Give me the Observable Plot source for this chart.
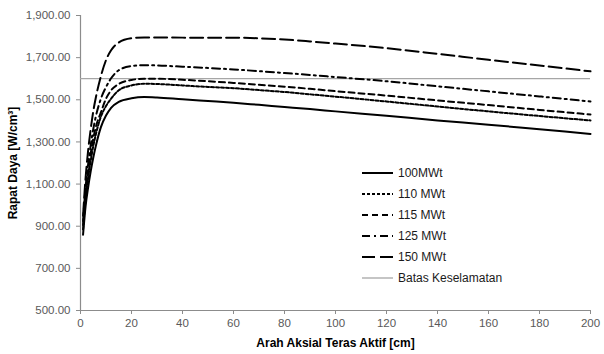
<!DOCTYPE html>
<html>
<head>
<meta charset="utf-8">
<script src="https://cdn.jsdelivr.net/npm/d3@7"></script>
<script src="https://cdn.jsdelivr.net/npm/@observablehq/plot@0.6"></script>
<style>
  body { margin: 0; background: #fff; }
  #wrap { position: relative; width: 604px; height: 354px; font-family: "Liberation Sans", Arial, sans-serif; }
  #legend { position: absolute; left: 362px; top: 162px; font-size: 12px; color: #1a1a1a; }
  #legend .row { display: flex; align-items: center; height: 21px; }
  #legend svg { margin-right: 5px; }
</style>
</head>
<body>
<div id="wrap"></div>
<script>
// Axial position (cm)
const xs = [1, 2, 3, 4, 5, 6, 8, 10, 12, 15, 20, 25, 30, 40, 50, 60, 70, 80, 90, 100, 120, 140, 160, 180, 200];
// Power density [W/cm3] per series
const p100 = [860, 995, 1085, 1160, 1225, 1280, 1370, 1425, 1462, 1490, 1507, 1513, 1511, 1502, 1494, 1486, 1476, 1466, 1456, 1445, 1424, 1402, 1382, 1360, 1338];
const p110 = [885, 1030, 1130, 1210, 1280, 1335, 1420, 1470, 1505, 1545, 1568, 1576, 1575, 1568, 1561, 1555, 1546, 1537, 1526, 1515, 1492, 1468, 1445, 1423, 1402];
const p115 = [905, 1055, 1160, 1245, 1315, 1370, 1440, 1505, 1545, 1575, 1594, 1600, 1600, 1595, 1588, 1580, 1571, 1562, 1552, 1541, 1520, 1497, 1475, 1452, 1430];
const p125 = [925, 1085, 1195, 1285, 1360, 1420, 1505, 1560, 1602, 1640, 1660, 1664, 1663, 1657, 1651, 1644, 1636, 1627, 1618, 1608, 1588, 1564, 1540, 1516, 1492];
const p150 = [950, 1130, 1260, 1360, 1445, 1510, 1612, 1688, 1735, 1772, 1792, 1796, 1796, 1795, 1795, 1795, 1792, 1786, 1777, 1767, 1745, 1718, 1690, 1663, 1635];
const seriesNames = ["100MWt", "110 MWt", "115 MWt", "125 MWt", "150 MWt"];
const seriesValues = [p100, p110, p115, p125, p150];
const limitName = "Batas Keselamatan";
const limitValue = 1600;
const xTicks = [0, 20, 40, 60, 80, 100, 120, 140, 160, 180, 200];
const yTicks = [500, 700, 900, 1100, 1300, 1500, 1700, 1900];

const dashes = ["none", "3,2", "6,4", "8,4,2,4", "13,5"];

const rows = [];
seriesNames.forEach((name, i) => {
  xs.forEach((x, j) => rows.push({series: name, x, y: seriesValues[i][j]}));
});

const chart = Plot.plot({
  width: 604,
  height: 354,
  marginLeft: 80,
  marginRight: 14,
  marginTop: 15,
  marginBottom: 44,
  style: {fontFamily: "Liberation Sans, Arial, sans-serif", fontSize: "11px", background: "#fff"},
  x: {domain: [0, 200]},
  y: {domain: [500, 1900]},
  marks: [
    Plot.axisX({ticks: xTicks, tickSize: 4, stroke: "#8c8c8c", fill: "#595959", tickPadding: 4, fontSize: 11.5,
      label: "Arah Aksial Teras Aktif [cm]", labelAnchor: "center", labelArrow: "none", labelOffset: 36}),
    Plot.axisY({ticks: yTicks, tickSize: 4, stroke: "#8c8c8c", fill: "#595959", tickPadding: 6, fontSize: 11.5,
      tickFormat: d3.format(",.2f"),
      label: "Rapat Daya [W/cm³]", labelAnchor: "center", labelArrow: "none", labelOffset: 72}),
    Plot.ruleX([0], {stroke: "#8c8c8c", strokeWidth: 1.2}),
    Plot.ruleY([500], {stroke: "#8c8c8c", strokeWidth: 1.2}),
    Plot.ruleY([limitValue], {stroke: "#a6a6a6", strokeWidth: 1.3}),
    ...seriesNames.map((name, i) => Plot.line(rows.filter(d => d.series === name), {
      x: "x", y: "y", stroke: "#000", strokeWidth: 2, strokeDasharray: dashes[i], curve: "monotone-x"
    }))
  ]
});

// Bold axis labels, black
d3.select(chart).selectAll("g[aria-label='x-axis label'] text, g[aria-label='y-axis label'] text")
  .attr("font-weight", "bold").attr("fill", "#000").attr("font-size", "12px");

const wrap = document.getElementById("wrap");
wrap.appendChild(chart);

// Legend
const legend = document.createElement("div");
legend.id = "legend";
const entries = seriesNames.map((n, i) => ({name: n, dash: dashes[i], color: "#000", w: 2}))
  .concat([{name: limitName, dash: "none", color: "#a6a6a6", w: 1.3}]);
entries.forEach(e => {
  const row = document.createElement("div");
  row.className = "row";
  row.innerHTML = `<svg width="31" height="6"><line x1="0" x2="31" y1="3" y2="3" stroke="${e.color}" stroke-width="${e.w}" ${e.dash === "none" ? "" : `stroke-dasharray="${e.dash}"`}/></svg><span>${e.name}</span>`;
  legend.appendChild(row);
});
wrap.appendChild(legend);
</script>
</body>
</html>
